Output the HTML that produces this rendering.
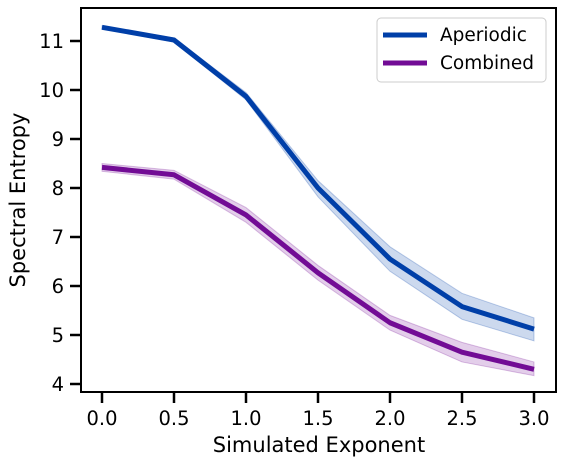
<!DOCTYPE html>
<html><head><meta charset="utf-8"><style>
body{margin:0;background:#fff;}
svg text{font-family:"DejaVu Sans","Liberation Sans",sans-serif;fill:#000;}
</style></head><body>
<svg id="chart" width="566" height="465">
<rect x="81" y="8" width="475" height="384" fill="none" stroke="#000" stroke-width="2"/>
<g id="bands"></g><g id="lines"></g><g id="axes"></g>
<text x="319" y="452" font-size="21" text-anchor="middle">Simulated Exponent</text>
<text transform="translate(25,200) rotate(-90)" font-size="21" text-anchor="middle">Spectral Entropy</text>
<g>
<rect x="377" y="18" width="169" height="64" rx="4" fill="#fff" stroke="#ccc"/>
<line x1="383" y1="35" x2="427" y2="35" stroke="#003fa8" stroke-width="5"/>
<text x="440" y="41" font-size="18.5">Aperiodic</text>
<line x1="383" y1="63" x2="427" y2="63" stroke="#720c95" stroke-width="5"/>
<text x="440" y="69" font-size="18.5">Combined</text>
</g>
</svg>
<script>
const xs=[0,0.5,1.0,1.5,2.0,2.5,3.0];
const aperiodic=[11.28,11.02,9.87,8.0,6.55,5.58,5.12];
const aperiodicLo=[11.25,10.98,9.8,7.82,6.3,5.32,4.88];
const aperiodicHi=[11.31,11.06,9.95,8.15,6.8,5.85,5.35];
const combined=[8.42,8.27,7.45,6.27,5.25,4.65,4.3];
const combinedLo=[8.34,8.18,7.3,6.12,5.1,4.45,4.17];
const combinedHi=[8.5,8.36,7.6,6.42,5.4,4.85,4.45];
const xTicks=[0,0.5,1.0,1.5,2.0,2.5,3.0];
const xTickLabels=["0.0","0.5","1.0","1.5","2.0","2.5","3.0"];
const yTicks=[4,5,6,7,8,9,10,11];
const X=v=>102+v*144, Y=v=>384-(v-4)*49;
const NS="http://www.w3.org/2000/svg";
function mk(t,a,p){const e=document.createElementNS(NS,t);for(const k in a)e.setAttribute(k,a[k]);p.appendChild(e);return e;}
const bands=document.getElementById('bands'),lines=document.getElementById('lines'),axes=document.getElementById('axes');
function band(lo,hi,col,name){
 const pts=xs.map((x,i)=>X(x)+','+Y(hi[i])).concat(xs.map((x,i)=>X(x)+','+Y(lo[i])).reverse());
 const e=mk('polygon',{points:pts.join(' '),fill:col,'fill-opacity':0.2,stroke:col,'stroke-opacity':0.25},bands);
 
 
}
function line(v,col,name){
 const e=mk('polyline',{points:xs.map((x,i)=>X(x)+','+Y(v[i])).join(' '),fill:'none',stroke:col,'stroke-width':5,'stroke-linejoin':'round'},lines);
 
 
}
band(aperiodicLo,aperiodicHi,'#003fa8','aperiodic-ci-band');
band(combinedLo,combinedHi,'#720c95','combined-ci-band');
line(aperiodic,'#003fa8','aperiodic-line');
line(combined,'#720c95','combined-line');
xTicks.forEach((t,i)=>{
 const l=mk('line',{x1:X(t),x2:X(t),y1:392,y2:403,stroke:'#000','stroke-width':2.5},axes);
 
 
 const tx=mk('text',{x:X(t),y:425,'font-size':19.5,'text-anchor':'middle'},axes);tx.textContent=xTickLabels[i];
 
 
});
yTicks.forEach(t=>{
 const l=mk('line',{x1:70,x2:81,y1:Y(t),y2:Y(t),stroke:'#000','stroke-width':2.5},axes);
 
 
 const tx=mk('text',{x:64,y:Y(t)+7,'font-size':19.5,'text-anchor':'end'},axes);tx.textContent=t;
 
 
});
</script>
</body></html>
